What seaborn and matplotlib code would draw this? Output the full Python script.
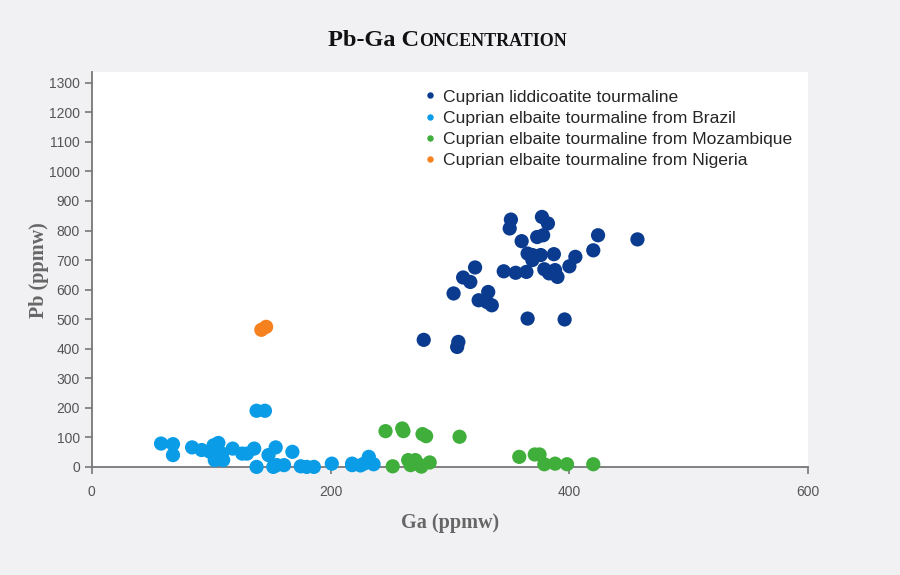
import pandas as pd
import seaborn as sns
import matplotlib.pyplot as plt

# data (Ga, Pb in ppmw)
LIDD_GA = [351, 350, 377, 382, 424, 373, 378, 360, 420, 365, 369, 376, 387, 369,
           405, 400, 321, 345, 355, 364, 379, 383, 388, 390, 311, 317, 303, 332,
           324, 331, 335, 365, 396, 278, 307, 306, 457]
LIDD_PB = [837, 807, 846, 824, 784, 778, 784, 764, 733, 722, 717, 717, 720, 700,
           711, 679, 675, 662, 657, 660, 669, 655, 666, 643, 641, 626, 587, 592,
           564, 558, 547, 502, 499, 430, 423, 406, 770]

BRAZIL_GA = [58, 68, 68, 84, 92, 102, 106, 99, 103, 110, 109, 105, 118, 126, 130,
             136, 138, 145, 138, 148, 154, 152, 155, 161, 168, 175, 180, 186, 201,
             218, 218, 228, 232, 236, 225]
BRAZIL_PB = [79, 77, 40, 66, 57, 73, 81, 51, 23, 23, 45, 62, 62, 45, 45,
             62, 190, 190, 0, 40, 66, 0, 6, 6, 51, 2, 0, 0, 11,
             6, 11, 11, 34, 9, 5]

MOZ_GA = [246, 260, 261, 277, 280, 308, 252, 265, 267, 271, 275, 276, 283,
          358, 371, 375, 379, 388, 398, 420]
MOZ_PB = [121, 130, 121, 111, 104, 102, 2, 23, 6, 23, 6, 1, 15,
          34, 42, 42, 9, 11, 9, 9]

NIG_GA = [142, 146]
NIG_PB = [464, 474]

GROUPS = ["Cuprian liddicoatite tourmaline",
          "Cuprian elbaite tourmaline from Brazil",
          "Cuprian elbaite tourmaline from Mozambique",
          "Cuprian elbaite tourmaline from Nigeria"]
COLORS = ["#0a3b8f", "#0a9ce6", "#3fae3b", "#f5821f"]

Y_TICKS = list(range(0, 1400, 100))
X_TICKS = [0, 200, 400, 600]

# build long table
rows = []
for name, gx, gy in zip(GROUPS, [LIDD_GA, BRAZIL_GA, MOZ_GA, NIG_GA],
                        [LIDD_PB, BRAZIL_PB, MOZ_PB, NIG_PB]):
    for a, b in zip(gx, gy):
        rows.append({"Ga": a, "Pb": b, "Group": name})
df = pd.DataFrame(rows)

sns.set_style("ticks")
plt.rcParams["font.family"] = ["Liberation Sans", "DejaVu Sans"]

fig = plt.figure(figsize=(9, 5.75), dpi=100, facecolor="#f1f1f3")
ax = fig.add_axes([0.102, 0.188, 0.796, 0.686])
ax.set_facecolor("white")

sns.scatterplot(data=df, x="Ga", y="Pb", hue="Group", hue_order=GROUPS,
                palette=dict(zip(GROUPS, COLORS)), s=105, linewidth=0,
                alpha=1, ax=ax, clip_on=False, zorder=3)

ax.set_xlim(0, 600)
ax.set_ylim(0, 1335)
ax.set_xticks(X_TICKS)
ax.set_yticks(Y_TICKS)

gray = "#777777"
for side in ["top", "right"]:
    ax.spines[side].set_visible(False)
for side in ["left", "bottom"]:
    ax.spines[side].set_color(gray)
    ax.spines[side].set_linewidth(1.3)
ax.tick_params(colors=gray, labelcolor="#555555", labelsize=10, length=5, width=1.2)
ax.tick_params(axis="x", pad=8)

lab_font = dict(family=["Liberation Serif", "DejaVu Serif"], weight="bold",
                size=14.5, color="#666666")
ax.set_xlabel("Ga (ppmw)", labelpad=10, **lab_font)
ax.set_ylabel("Pb (ppmw)", labelpad=0, **lab_font)

# legend
handles, labels = ax.get_legend_handles_labels()
leg = ax.legend(handles, labels, loc="upper left", bbox_to_anchor=(0.452, 0.975),
                frameon=False, fontsize=12.6, markerscale=0.45,
                handlelength=0.8, handletextpad=0.35, labelspacing=0.34,
                borderaxespad=0)

# small-caps style title: two pieces on one baseline
tfont = dict(family=["Liberation Serif", "DejaVu Serif"], weight="bold", color="#111111")
t1 = fig.text(0.365, 0.92, "Pb-Ga C", fontsize=17.5, ha="left", va="baseline", **tfont)
fig.canvas.draw()
bb = t1.get_window_extent(fig.canvas.get_renderer())
x2 = bb.x1 / fig.bbox.width
fig.text(x2, 0.92, "ONCENTRATION", fontsize=13, ha="left", va="baseline", **tfont)

fig.savefig("out.png", dpi=100, facecolor=fig.get_facecolor())
